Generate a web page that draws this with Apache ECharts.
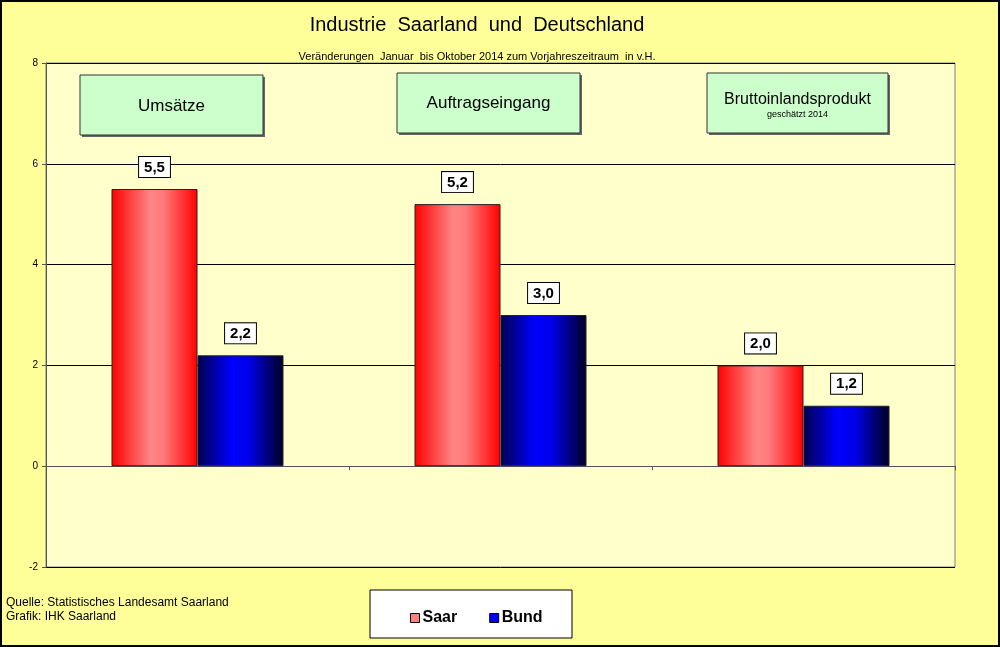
<!DOCTYPE html>
<html lang="de">
<head>
    <meta charset="UTF-8">
    <title>Industrie Saarland und Deutschland</title>
</head>
<body style="margin:0;">
<div id="main" style="width: 1000px;height:647px;"></div>
<script type="text/javascript" src="https://cdn.jsdelivr.net/npm/echarts@6/dist/echarts.min.js"></script>
<script type="text/javascript">
    // Daten
    var categories = ['Umsätze', 'Auftragseingang', 'Bruttoinlandsprodukt'];
    var saar = [5.5, 5.2, 2.0];
    var bund = [2.2, 3.0, 1.2];
    var yTicks = [-2, 0, 2, 4, 6, 8];

    var myChart = echarts.init(document.getElementById('main'));

    var redGrad = new echarts.graphic.LinearGradient(0, 0, 1, 0, [
        {offset: 0, color: '#FF0000'},
        {offset: 0.45, color: '#FF8585'},
        {offset: 0.6, color: '#FF7a7a'},
        {offset: 1, color: '#FF0000'}
    ]);
    var blueGrad = new echarts.graphic.LinearGradient(0, 0, 1, 0, [
        {offset: 0, color: '#000050'},
        {offset: 0.4, color: '#0000FF'},
        {offset: 0.6, color: '#0000E8'},
        {offset: 1, color: '#000020'}
    ]);

    function fmt(p) {
        return p.value.toFixed(1).replace('.', ',');
    }

    // grüne Textfelder über den Gruppen
    function box(x, y, w, h, lines) {
        var children = [
            {type: 'rect', shape: {x: x + 2, y: y + 2, width: w, height: h}, style: {fill: '#666'}},
            {type: 'rect', shape: {x: x, y: y, width: w, height: h}, style: {fill: '#CCFFCC', stroke: '#333', lineWidth: 1}}
        ];
        lines.forEach(function (l) {
            children.push({type: 'text', x: x + w / 2, y: y + l.dy,
                style: {text: l.text, font: l.font, fill: '#000', align: 'center', verticalAlign: 'middle'}});
        });
        return {type: 'group', children: children};
    }

    var barLabel = {
        show: true, position: 'top', distance: 12, formatter: fmt,
        backgroundColor: '#fff', borderColor: '#000', borderWidth: 1, padding: [3, 5, 2, 5],
        fontFamily: 'Liberation Sans', fontWeight: 'bold', fontSize: 15, color: '#000'
    };

    var option = {
        backgroundColor: '#FFFF99',
        animation: false,
        title: {
            text: 'Industrie  Saarland  und  Deutschland',
            left: 472, top: 10, textAlign: 'center',
            textStyle: {fontFamily: 'Liberation Sans', fontWeight: 'normal', fontSize: 20, color: '#000'},
            subtext: 'Veränderungen  Januar  bis Oktober 2014 zum Vorjahreszeitraum  in v.H.',
            itemGap: 16,
            subtextStyle: {fontFamily: 'Liberation Sans', fontSize: 11, color: '#000'}
        },
        legend: {
            left: 405, top: 605, z: 10,
            itemWidth: 9, itemHeight: 9, itemGap: 32,
            icon: 'rect',
            textStyle: {fontFamily: 'Liberation Sans', fontWeight: 'bold', fontSize: 16, color: '#000', padding: [0, 0, 0, -2]},
            data: [
                {name: 'Saar', itemStyle: {color: '#FF8080', borderColor: '#000', borderWidth: 1}},
                {name: 'Bund', itemStyle: {color: '#0000FF', borderColor: '#000', borderWidth: 1}}
            ]
        },
        grid: {
            left: 46, right: 45, top: 63, bottom: 80,
            show: true, backgroundColor: '#FFFFCC', borderColor: '#808080', borderWidth: 1
        },
        xAxis: {
            type: 'category',
            data: categories,
            axisLine: {onZero: true, lineStyle: {color: '#555', width: 1}},
            axisTick: {show: true, length: 4, lineStyle: {color: '#555'}},
            axisLabel: {show: false}
        },
        yAxis: {
            type: 'value',
            min: yTicks[0], max: yTicks[yTicks.length - 1], interval: 2,
            axisLine: {show: true, lineStyle: {color: '#555'}},
            axisTick: {show: true, length: 4, lineStyle: {color: '#555'}},
            axisLabel: {fontFamily: 'Liberation Sans', fontSize: 10, color: '#000', margin: 8},
            splitLine: {lineStyle: {color: '#000', width: 1}}
        },
        series: [{
            name: 'Saar',
            type: 'bar',
            data: saar,
            barWidth: 86,
            barGap: '0%',
            itemStyle: {color: redGrad, borderColor: '#222', borderWidth: 1},
            label: barLabel
        }, {
            name: 'Bund',
            type: 'bar',
            data: bund,
            barWidth: 86,
            itemStyle: {color: blueGrad, borderColor: '#222', borderWidth: 1},
            label: barLabel
        }],
        graphic: [
            {type: 'rect', z: 100, shape: {x: 1, y: 1, width: 998, height: 645}, style: {fill: null, stroke: '#000', lineWidth: 2}},
            box(80, 75, 183, 60, [{text: 'Umsätze', font: '17px "Liberation Sans"', dy: 31}]),
            box(397, 73, 183, 60, [{text: 'Auftragseingang', font: '17px "Liberation Sans"', dy: 30}]),
            box(707, 73, 181, 60, [
                {text: 'Bruttoinlandsprodukt', font: '16px "Liberation Sans"', dy: 27},
                {text: 'geschätzt 2014', font: '9px "Liberation Sans"', dy: 42}
            ]),
            {type: 'rect', z: 1, shape: {x: 370, y: 590, width: 202, height: 48}, style: {fill: '#fff', stroke: '#000', lineWidth: 1}},
            {type: 'text', left: 6, top: 596, style: {text: 'Quelle: Statistisches Landesamt Saarland\nGrafik: IHK Saarland', font: '12px "Liberation Sans"', fill: '#000', lineHeight: 14}}
        ]
    };
    myChart.setOption(option);
</script>
</body>
</html>
